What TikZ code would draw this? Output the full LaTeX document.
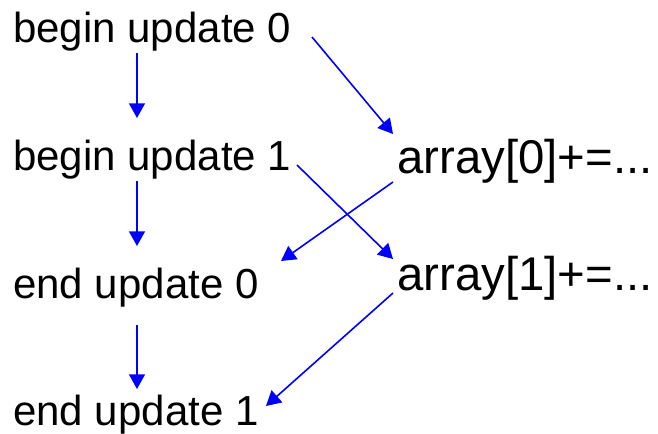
\documentclass[tikz,border=0pt]{standalone}
\usepackage{fontspec}
\setmainfont{Liberation Sans}
\usetikzlibrary{arrows.meta}
\begin{document}
\begin{tikzpicture}[x=0.75pt,y=-0.75pt,
  lbl/.style={anchor=base west,inner sep=0pt,font=\fontsize{31.5}{36}\selectfont},
  arr/.style={anchor=base west,inner sep=0pt,font=\fontsize{35.5}{40}\selectfont},
  conn/.style={draw=blue,line width=1.2pt,-{Triangle[length=11pt,width=12pt]}}]
\useasboundingbox (0,0) rectangle (658,433);
\node[lbl] (b0) at (13,42) {begin update 0};
\node[lbl] (b1) at (13,170) {begin update 1};
\node[lbl] (e0) at (13,298) {end update 0};
\node[lbl] (e1) at (13,425) {end update 1};
\node[arr] (a0) at (397,173) {array[0]+=...};
\node[arr] (a1) at (397,290) {array[1]+=...};
% connector end points
\coordinate (b0d) at (137,53);   \coordinate (b1u) at (137,118);
\coordinate (b1d) at (137,181);  \coordinate (e0u) at (137,246);
\coordinate (e0d) at (137,325);  \coordinate (e1u) at (137,389);
\coordinate (b0r) at (312,37);   \coordinate (a0l) at (393,134);
\coordinate (b1r) at (297,165);  \coordinate (a1l) at (393,259);
\coordinate (a0s) at (393,182);  \coordinate (e0r) at (281,261);
\coordinate (a1s) at (393,293);  \coordinate (e1r) at (266,406);
\draw[conn] (b0d) -- (b1u);
\draw[conn] (b1d) -- (e0u);
\draw[conn] (e0d) -- (e1u);
\draw[conn] (b0r) -- (a0l);
\draw[conn] (b1r) -- (a1l);
\draw[conn] (a0s) -- (e0r);
\draw[conn] (a1s) -- (e1r);
\end{tikzpicture}
\end{document}
